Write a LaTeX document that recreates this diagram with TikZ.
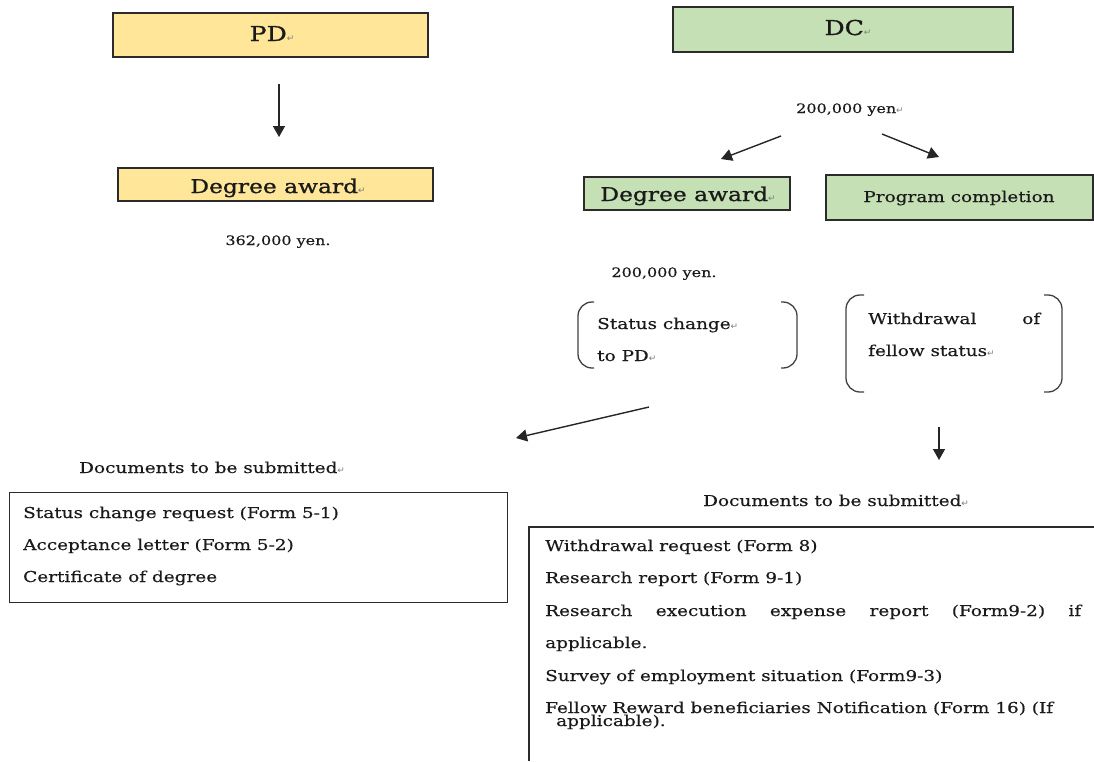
\documentclass[tikz,border=0pt]{standalone}
\usepackage{fontspec}
\setmainfont[FakeStretch=1.23, FakeBold=0.35]{DejaVu Serif}
\newfontfamily\headfont[FakeStretch=1.23, FakeBold=1.1]{DejaVu Serif}
\newfontfamily\symfont{DejaVu Sans}
\usetikzlibrary{arrows.meta}
\definecolor{pdyellow}{HTML}{FFE699}
\definecolor{dcgreen}{HTML}{C5E0B4}
\definecolor{edge}{HTML}{2B2B2B}
\definecolor{ink}{HTML}{1A1A1A}
\newcommand{\rmk}{{\fontsize{9}{9}\selectfont\symfont\textcolor{gray}{↵}}}
\newcommand{\fTitle}{\headfont\fontsize{20.5}{22}\selectfont}
\newcommand{\fBox}{\headfont\fontsize{19}{21}\selectfont}
\newcommand{\fBody}{\fontsize{15}{18}\selectfont}
\newcommand{\fSmall}{\fontsize{13}{15}\selectfont}
\tikzset{
  pdbox/.style={draw=edge, line width=1.4pt, fill=pdyellow, inner sep=0pt},
  dcbox/.style={draw=edge, line width=1.4pt, fill=dcgreen, inner sep=0pt},
  txt/.style={inner sep=0pt, anchor=base west, text=ink},
  ctxt/.style={inner sep=0pt, anchor=base, text=ink},
  arr/.style={line width=1.4pt, draw=black!85, -{Triangle[length=11pt,width=12pt]}},
  brk/.style={line width=1.3pt, draw=black!75, rounded corners=14pt},
  docbox/.style={draw=edge, line width=1.4pt}
}
\begin{document}
\begin{tikzpicture}[x=1pt,y=-1pt]
\useasboundingbox (0,0) rectangle (1094,761);
% ---------- PD side ----------
\node[pdbox, minimum width=315pt, minimum height=44pt] (pd) at (270.5,35) {};
\node[ctxt, font=\fTitle] (pdt) at (272,41) {PD\rmk};
\node[pdbox, minimum width=315pt, minimum height=33pt] (pda) at (275.5,184.5) {};
\node[ctxt, font=\fBox] (pdat) at (278,193) {Degree award\rmk};
\node[ctxt, font=\fSmall] (pdyen) at (278,245) {362,000 yen.};
\coordinate (a1s) at (279,84);
\coordinate (a1e) at (279,137);
\draw[arr] (a1s) -- (a1e);
% ---------- DC side ----------
\node[dcbox, minimum width=340pt, minimum height=45pt] (dc) at (843,29.5) {};
\node[ctxt, font=\fTitle] (dct) at (848,35) {DC\rmk};
\node[ctxt, font=\fSmall] (dcyen) at (850,113) {200,000 yen\rmk};
\coordinate (a2s) at (781,136);
\coordinate (a2e) at (721,159);
\coordinate (a3s) at (882,134);
\coordinate (a3e) at (939,157);
\draw[arr] (a2s) -- (a2e);
\draw[arr] (a3s) -- (a3e);
\node[dcbox, minimum width=206pt, minimum height=33pt] (dca) at (687,193.5) {};
\node[ctxt, font=\fBox] (dcat) at (688,201) {Degree award\rmk};
\node[dcbox, minimum width=267pt, minimum height=45pt] (prog) at (959.5,197.5) {};
\node[ctxt, font=\fBody] (progt) at (959,202) {Program completion};
\node[ctxt, font=\fSmall] (yen2) at (664,277) {200,000 yen.};
% status change bracket
\node[txt, font=\fBody] (sc1) at (597,329) {Status change\rmk};
\node[txt, font=\fBody] (sc2) at (597,361) {to PD\rmk};
\coordinate (scTL) at (578,302);
\coordinate (scBR) at (797,368);
\draw[brk] (scTL) ++(16,0) -| (578,368) -- ++(16,0);
\draw[brk] (scBR) ++(-16,-66) -| (scBR) -- ++(-16,0);
% withdrawal bracket
\node[txt, font=\fBody] (wd1) at (868,324) {\hbox to 172pt{Withdrawal\hfill of}};
\node[txt, font=\fBody] (wd2) at (868,356) {fellow status\rmk};
\coordinate (wdTL) at (846,295);
\coordinate (wdBR) at (1062,392);
\draw[brk] (wdTL) ++(18,0) -| (846,392) -- ++(18,0);
\draw[brk] (wdBR) ++(-18,-97) -| (wdBR) -- ++(-18,0);
% arrows to documents
\coordinate (a4s) at (649,407);
\coordinate (a4e) at (516,438);
\draw[arr] (a4s) -- (a4e);
\coordinate (a5s) at (939,427);
\coordinate (a5e) at (939,460);
\draw[arr] (a5s) -- (a5e);
% ---------- left documents ----------
\node[txt, font=\fBody] (ldh) at (79,473) {Documents to be submitted\rmk};
\node[docbox, minimum width=498pt, minimum height=110pt, anchor=north west] (ldbox) at (9,492) {};
\node[txt, font=\fBody] (l1) at (23,518) {Status change request (Form 5-1)};
\node[txt, font=\fBody] (l2) at (23,550) {Acceptance letter (Form 5-2)};
\node[txt, font=\fBody] (l3) at (23,582) {Certificate of degree};
% ---------- right documents ----------
\node[txt, font=\fBody] (rdh) at (703,506) {Documents to be submitted\rmk};
\coordinate (rbTL) at (529,527);
\coordinate (rbTR) at (1094,527);
\coordinate (rbBL) at (529,761);
\draw[docbox] (rbTR) -- (rbTL) -- (rbBL);
\node[txt, font=\fBody] (r1) at (545,551) {Withdrawal request (Form 8)};
\node[txt, font=\fBody] (r2) at (545,583) {Research report (Form 9-1)};
\node[txt, font=\fBody] (r3) at (545,616) {\hbox to 536pt{Research\hfill execution\hfill expense\hfill report\hfill (Form9-2)\hfill if}};
\node[txt, font=\fBody] (r4) at (545,648) {applicable.};
\node[txt, font=\fBody] (r5) at (545,681) {Survey of employment situation (Form9-3)};
\node[txt, font=\fBody] (r6) at (545,713) {Fellow Reward beneficiaries Notification (Form 16) (If};
\node[txt, font=\fBody] (r7) at (556,726) {applicable).};
\end{tikzpicture}
\end{document}
